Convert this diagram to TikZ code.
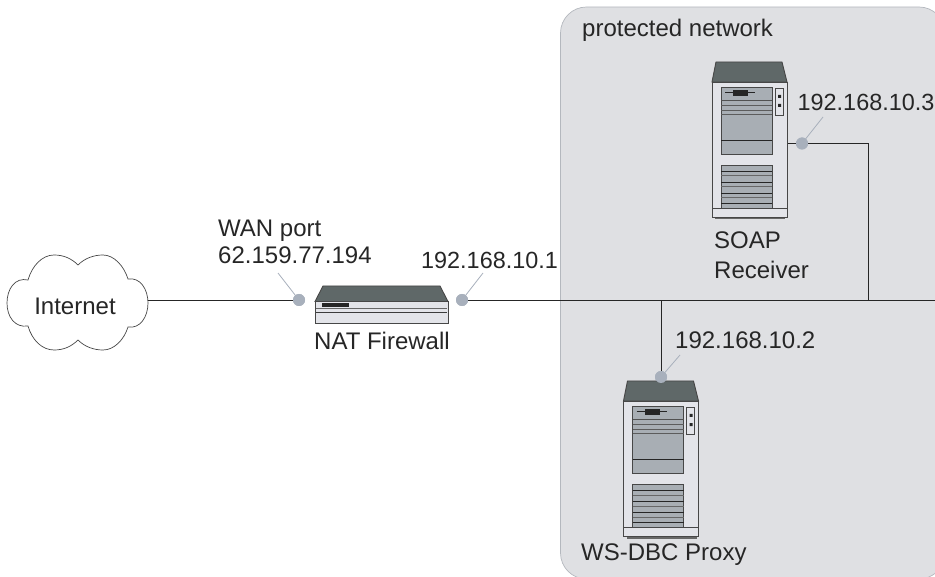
\documentclass[tikz,border=0pt]{standalone}
\usepackage{fontspec}
\setmainfont{Liberation Sans}
\definecolor{zone}{HTML}{DFE0E3}
\definecolor{zoneedge}{HTML}{B4B8BE}
\definecolor{roof}{HTML}{5F6868}
\definecolor{panel}{HTML}{A8AEB4}
\definecolor{case}{HTML}{E3E4E9}
\definecolor{port}{HTML}{A8B0BC}
\definecolor{ink}{HTML}{262626}
\tikzset{
  x=1pt,y=-1pt,
  lbl/.style={font=\fontsize{24}{23}\selectfont,text=ink,inner sep=0pt,align=left},
  lblip/.style={lbl,font=\fontsize{23.4}{23}\selectfont},
  wire/.style={draw=ink,line width=1pt},
  lead/.style={draw=port,line width=0.8pt},
  portdot/.style={circle,fill=port,minimum size=12pt,inner sep=0pt},
  edge/.style={draw=ink!85,line width=0.9pt},
  srv/.pic={
    \fill[ink!70] (3,155) rectangle (73,157.5);
    \filldraw[fill=roof,edge] (4,0) -- (70,0) -- (75,20) -- (0,20) -- cycle;
    \filldraw[fill=case,edge] (0,20) rectangle (75,155);
    \draw[edge] (0,146) -- (75,146);
    \filldraw[fill=panel,edge] (9,25) rectangle (60,92);
    \draw[ink!80,line width=1.2pt] (9,38.5) -- (60,38.5);
    \draw[ink!75,line width=.8pt] (9,43) -- (60,43) (9,48) -- (60,48) (9,52) -- (60,52);
    \draw[ink,line width=.8pt] (9,78) -- (60,78);
    \draw[ink,line width=1pt] (13,31) -- (43,31);
    \fill[ink] (21,28) rectangle (36,34);
    \filldraw[fill=case,edge] (63,26) rectangle (71,53);
    \fill[ink] (66,33) rectangle (69,36) (66,42) rectangle (69,45);
    \filldraw[fill=panel,edge] (9,103) rectangle (60,146);
    \draw[ink,line width=.8pt] (9,109) -- (60,109) (9,120) -- (60,120) (9,131) -- (60,131) (9,141) -- (60,141);
    \draw[ink!70,line width=1pt] (9,114) -- (60,114) (9,125) -- (60,125) (9,136) -- (60,136);
  }
}
\begin{document}
\begin{tikzpicture}
\useasboundingbox (0,0) rectangle (935,577);
\begin{scope}
\clip (0,0) rectangle (935,577);
\filldraw[fill=zone,draw=zoneedge,line width=.7pt,rounded corners=26pt] (560.5,7) rectangle (945,579);
\end{scope}
% cloud
\filldraw[fill=white,draw=ink!85,line width=.7pt] (78,265)
 .. controls (85,258) and (94,255) .. (103,255)
 .. controls (114,255) and (124,266) .. (128,279)
 .. controls (140,277) and (148,289) .. (148,303)
 .. controls (148,317) and (140,329) .. (128,327)
 .. controls (124,340) and (114,350) .. (103,350)
 .. controls (94,350) and (85,347) .. (78,340)
 .. controls (71,347) and (63,350) .. (54,350)
 .. controls (42,350) and (32,340) .. (28,326)
 .. controls (15,328) and (7,317) .. (7,303)
 .. controls (7,289) and (15,277) .. (28,280)
 .. controls (32,266) and (42,255) .. (54,255)
 .. controls (63,255) and (71,258) .. (78,265) -- cycle;
\node[lbl,anchor=center] (inet) at (75,306) {Internet};
\coordinate (cloudR) at (148,301);
\coordinate (rightEnd) at (935,301);
% wires
\node[portdot] (p1) at (299,300) {};
\node[portdot] (p2) at (462,300) {};
\node[portdot] (p3) at (661,377) {};
\node[portdot] (p4) at (802,143.5) {};
\coordinate (tee1) at (661,301);
\coordinate (tee2) at (868,301);
\coordinate (tee3) at (868,144);
\draw[wire] (cloudR) -- (cloudR -| p1);
\draw[wire] (p2.center |- rightEnd) -- (rightEnd);
\draw[wire] (tee1) -- (p3.center);
\draw[wire] (tee2) -- (tee3) -- (787,144);
\coordinate (l1) at (278,273);
\coordinate (l2) at (483,273);
\coordinate (l3) at (680,355);
\coordinate (l4) at (823,117);
\draw[lead] (l1) -- (p1.center);
\draw[lead] (l2) -- (p2.center);
\draw[lead] (l3) -- (p3.center);
\draw[lead] (l4) -- (p4.center);
% firewall
\filldraw[fill=case,edge] (315,301.5) rectangle (448,323);
\filldraw[fill=roof,edge] (323,286) -- (440,286) -- (448,301.5) -- (315,301.5) -- cycle;
\fill[ink] (322,303) rectangle (349,307);
\draw[ink!70,line width=1pt] (316,309) -- (447,309);
\draw[ink!90,line width=1pt] (316,313) -- (447,313);
\pic at (712,62) {srv};
\pic at (623.5,381) {srv};
\node[portdot] at (p1) {};
\node[portdot] at (p2) {};
\node[portdot] at (p3) {};
\node[portdot] at (p4) {};
% labels
\node[lbl,anchor=west] (pn) at (582,30) {protected network};
\node[lblip,anchor=west] (ip3) at (797.5,102) {192.168.10.3};
\node[lbl,anchor=west] (soap) at (714,255) {SOAP\\[7pt]Receiver};
\node[lbl,anchor=west] (wan) at (218,242) {WAN port\\[4pt]62.159.77.194};
\node[lblip,anchor=west] (ip1) at (421,260) {192.168.10.1};
\node[lbl,anchor=west] (nat) at (314,341) {NAT Firewall};
\node[lbl,anchor=west] (ip2) at (675,340) {192.168.10.2};
\node[lbl,anchor=west] (ws) at (581,555) {WS-DBC Proxy};
\end{tikzpicture}
\end{document}
